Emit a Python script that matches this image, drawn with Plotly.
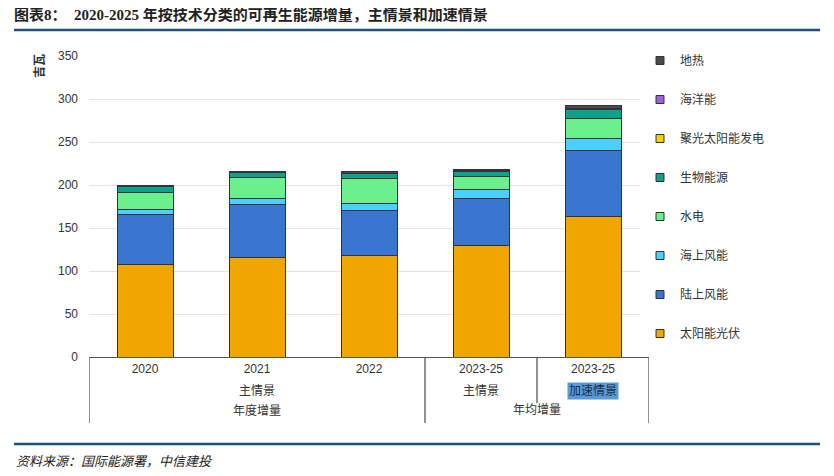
import plotly.graph_objects as go

categories = ["2020", "2021", "2022", "2023-25 主", "2023-25 加"]
tick_labels = ["2020", "2021", "2022", "2023-25", "2023-25"]
scenario_labels = ["主情景", "主情景", "加速情景"]
period_labels = ["年度增量", "年均增量"]

series_names = ["太阳能光伏", "陆上风能", "海上风能", "水电", "生物能源", "聚光太阳能发电", "海洋能", "地热"]
solar_pv = [107, 116, 118, 130, 163]
onshore_wind = [59, 61, 52, 54, 77]
offshore_wind = [6, 7, 9, 11, 14]
hydro = [19, 25, 28, 15, 23]
bioenergy = [7, 5, 6, 6, 11]
csp = [0.3, 0.5, 0.3, 0.5, 1]
ocean = [0, 0, 0, 0, 0]
geothermal = [1, 1.5, 2, 2, 3]
series_values = [solar_pv, onshore_wind, offshore_wind, hydro, bioenergy, csp, ocean, geothermal]
colors = ["#F0A500", "#3A75D0", "#4CD0FF", "#6CF08E", "#10A08C", "#F5D000", "#9B5FE0", "#4A4A4A"]

CJK = "Noto Sans CJK SC"
SANS = "Liberation Sans, Arial, " + CJK

fig = go.Figure()
for name, vals, col in zip(series_names, series_values, colors):
    fig.add_trace(go.Bar(
        x=categories, y=vals, name=name, showlegend=False,
        marker=dict(color=col, line=dict(color="#333333", width=1)),
    ))
# legend entries with small square swatches (top: 地热 ... bottom: 太阳能光伏)
for name, col in zip(series_names[::-1], colors[::-1]):
    fig.add_trace(go.Scatter(
        x=[None], y=[None], mode="markers", name=name, legendgroup=name,
        marker=dict(symbol="square", size=8, color=col, line=dict(color="#333333", width=1)),
    ))

# page body has an 8px margin; figure is sized/positioned accordingly
O = 8
W, H = 834 - O, 476 - O
# plot area in screen px
L, R, T, B = 89, 649, 56, 357
def px(xp):
    return (xp - L) / (R - L)
def py(yp):
    return (B - yp) / (B - T)

shapes = []
shapes.append(dict(type="line", xref="paper", yref="paper", x0=px(14), x1=px(820), y0=py(30), y1=py(30),
                   line=dict(color="#1F4E79", width=2.5)))
shapes.append(dict(type="line", xref="paper", yref="paper", x0=px(14), x1=px(820), y0=py(444), y1=py(444),
                   line=dict(color="#1F4E79", width=2.5)))
for xi, ybot in [(-0.5, 423), (2.5, 423), (3.5, 403), (4.5, 423)]:
    shapes.append(dict(type="line", xref="x", yref="paper", x0=xi, x1=xi, y0=0, y1=py(ybot),
                       line=dict(color="#555555", width=1.3)))

annotations = []
annotations.append(dict(text="吉瓦", xref="paper", yref="paper", x=px(38), y=py(66), showarrow=False,
                        xanchor="center", yanchor="middle", textangle=-90,
                        font=dict(family=CJK, size=12, color="#333333", weight="bold")))
annotations.append(dict(text="资料来源：国际能源署，中信建投", xref="paper", yref="paper", x=px(14), y=py(460),
                        xanchor="left", yanchor="middle", showarrow=False,
                        font=dict(family=CJK, size=13, color="#222222", style="italic")))
for xi, txt in zip([1, 3, 4], scenario_labels):
    a = dict(text=txt, xref="x", yref="paper", x=xi, y=py(391), showarrow=False,
             xanchor="center", yanchor="middle",
             font=dict(family=SANS, size=12, color="#333333"))
    if txt == "加速情景":
        a.update(bgcolor="#5B9BD5", borderpad=1, font=dict(family=SANS, size=12, color="#1A2A4A"))
    annotations.append(a)
for xi, txt in zip([1, 3.5], period_labels):
    annotations.append(dict(text=txt, xref="x", yref="paper", x=xi, y=py(410), showarrow=False,
                            xanchor="center", yanchor="middle",
                            font=dict(family=SANS, size=12, color="#333333")))

fig.update_layout(
    width=W, height=H,
    margin=dict(l=L - O, r=W - (R - O), t=T - O, b=H - (B - O), autoexpand=False),
    barmode="stack", bargap=0.5,
    plot_bgcolor="white", paper_bgcolor="white",
    title=dict(
        text="<b>图表8：  2020-2025 年按技术分类的可再生能源增量，主情景和加速情景</b>",
        x=(14 - O) / W, xref="container", xanchor="left",
        y=1.0, yref="container", yanchor="top", pad=dict(t=1),
        font=dict(family="Liberation Serif, " + CJK, size=15, color="#222222"),
    ),
    xaxis=dict(
        type="category", tickmode="array", tickvals=categories, ticktext=tick_labels,
        showline=True, linecolor="#555555", linewidth=1.3, ticks="",
        tickfont=dict(family=SANS, size=12, color="#333333"),
        showgrid=False, range=[-0.5, 4.5], automargin=False,
    ),
    yaxis=dict(
        range=[0, 350], dtick=50, showgrid=True, gridcolor="#E3E3E3", gridwidth=1,
        zeroline=False, ticks="", tickfont=dict(family=SANS, size=12, color="#333333"),
        ticklabelstandoff=10, automargin=False,
    ),
    legend=dict(
        x=px(640), y=py(46), xanchor="left", yanchor="top",
        traceorder="grouped", tracegroupgap=20, maxheight=420,
        font=dict(family=CJK, size=12, color="#333333"),
        itemwidth=30,
    ),
    shapes=shapes, annotations=annotations,
)

fig.write_html("out.html")
